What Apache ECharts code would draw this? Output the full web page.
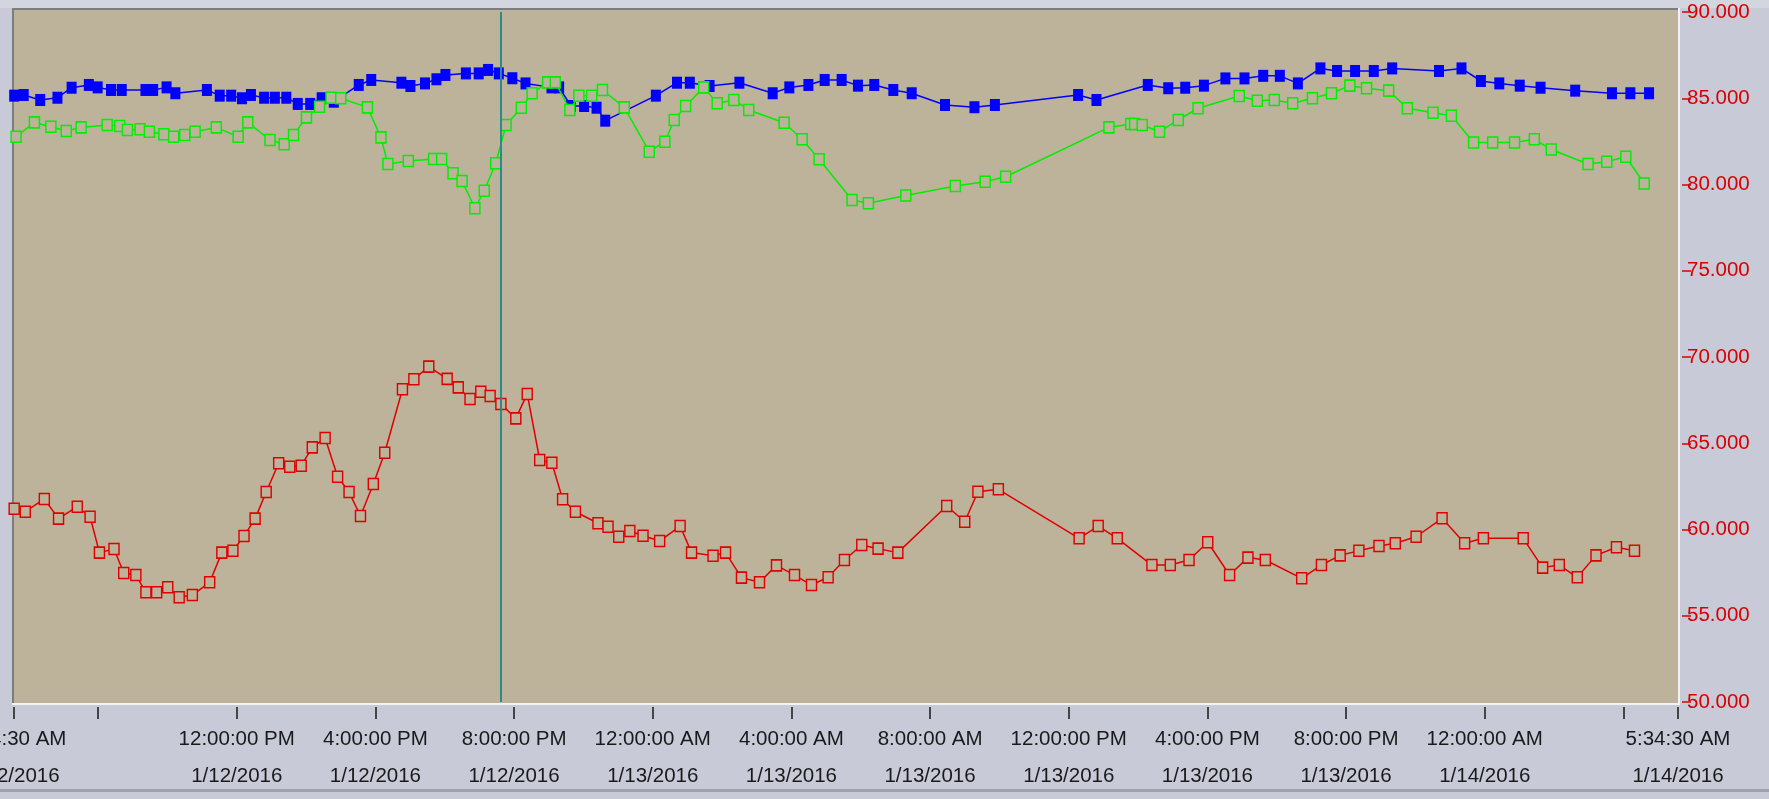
<!DOCTYPE html>
<html>
<head>
<meta charset="utf-8">
<title>Trend chart</title>
<script src="https://cdn.jsdelivr.net/npm/echarts@6/dist/echarts.min.js"></script>
<style>
  html, body { margin: 0; padding: 0; background: #c8cad8; overflow: hidden; }
  #chart { width: 1769px; height: 799px; }
</style>
</head>
<body>
<div id="chart"></div>
<script>
// x values are hours counted from 1/12/2016 00:00
var axisStart = 5.575;   // 5:34:30 AM 1/12/2016
var axisEnd = 53.575;    // 5:34:30 AM 1/14/2016
var cursorHour = 19.63;

var tickHours = [5.575, 8, 12, 16, 20, 24, 28, 32, 36, 40, 44, 48, 52, 53.575];
var labelHours = [5.575, 12, 16, 20, 24, 28, 32, 36, 40, 44, 48, 53.575];
var labelTexts = [
    '5:34:30 AM\n1/12/2016',
    '12:00:00 PM\n1/12/2016',
    '4:00:00 PM\n1/12/2016',
    '8:00:00 PM\n1/12/2016',
    '12:00:00 AM\n1/13/2016',
    '4:00:00 AM\n1/13/2016',
    '8:00:00 AM\n1/13/2016',
    '12:00:00 PM\n1/13/2016',
    '4:00:00 PM\n1/13/2016',
    '8:00:00 PM\n1/13/2016',
    '12:00:00 AM\n1/14/2016',
    '5:34:30 AM\n1/14/2016'
];

var blueHours = [5.58, 5.855, 6.331, 6.828, 7.237, 7.734, 7.988, 8.374, 8.683, 9.367, 9.589, 9.976, 10.23,
    11.14, 11.51, 11.84, 12.15, 12.41, 12.79, 13.10, 13.43, 13.76, 14.12, 14.45, 14.80, 15.52, 15.88,
    16.75, 17.01, 17.43, 17.76, 18.02, 18.61, 18.98, 19.25, 19.56, 19.95, 20.33, 21.08, 21.30, 21.64,
    22.02, 22.38, 22.63, 24.09, 24.70, 25.07, 25.64, 26.50, 27.46, 27.94, 28.49, 28.96, 29.45, 29.92,
    30.39, 30.94, 31.47, 32.43, 33.28, 33.87, 36.27, 36.80, 38.28, 38.87, 39.36, 39.90, 40.52, 41.07,
    41.61, 42.09, 42.61, 43.26, 43.74, 44.26, 44.80, 45.33, 46.68, 47.33, 47.89, 48.42, 49.01, 49.61,
    50.61, 51.67, 52.20, 52.74];
var blueValues = [85.15, 85.19, 84.90, 85.03, 85.61, 85.77, 85.63, 85.48, 85.48, 85.48, 85.48, 85.63, 85.29,
    85.48, 85.15, 85.15, 85.00, 85.19, 85.03, 85.03, 85.03, 84.67, 84.67, 85.00, 84.80, 85.77, 86.06,
    85.90, 85.71, 85.86, 86.10, 86.35, 86.44, 86.44, 86.64, 86.44, 86.16, 85.86, 85.63, 85.63, 84.55,
    84.55, 84.45, 83.70, 85.15, 85.90, 85.90, 85.71, 85.90, 85.29, 85.63, 85.77, 86.06, 86.06, 85.73,
    85.77, 85.48, 85.29, 84.61, 84.48, 84.61, 85.19, 84.90, 85.77, 85.58, 85.61, 85.73, 86.15, 86.15,
    86.30, 86.30, 85.86, 86.73, 86.58, 86.58, 86.58, 86.73, 86.58, 86.73, 86.00, 85.86, 85.73, 85.61,
    85.44, 85.29, 85.29, 85.29];

var greenHours = [5.635, 6.164, 6.640, 7.082, 7.512, 8.264, 8.628, 8.848, 9.214, 9.48, 9.898, 10.18, 10.50,
    10.80, 11.41, 12.04, 12.32, 12.96, 13.37, 13.64, 14.01, 14.39, 14.72, 15.00, 15.77, 16.16, 16.36,
    16.95, 17.68, 17.91, 18.24, 18.50, 18.87, 19.14, 19.47, 19.77, 20.21, 20.52, 20.97, 21.19, 21.61,
    21.87, 22.24, 22.55, 23.18, 23.90, 24.35, 24.62, 24.95, 25.47, 25.86, 26.34, 26.77, 27.79, 28.31,
    28.80, 29.75, 30.22, 31.30, 32.73, 33.59, 34.18, 37.16, 37.79, 37.90, 38.12, 38.62, 39.16, 39.73,
    40.92, 41.44, 41.93, 42.46, 43.03, 43.58, 44.11, 44.59, 45.23, 45.77, 46.51, 47.04, 47.68, 48.23,
    48.86, 49.43, 49.92, 50.98, 51.52, 52.07, 52.60];
var greenValues = [82.77, 83.60, 83.35, 83.10, 83.31, 83.45, 83.39, 83.16, 83.20, 83.06, 82.91, 82.77, 82.87,
    83.06, 83.31, 82.77, 83.60, 82.58, 82.33, 82.87, 83.89, 84.51, 85.03, 85.00, 84.47, 82.73, 81.19,
    81.36, 81.48, 81.48, 80.65, 80.20, 78.62, 79.64, 81.23, 83.45, 84.45, 85.29, 85.92, 85.92, 84.32,
    85.15, 85.15, 85.48, 84.47, 81.90, 82.48, 83.74, 84.55, 85.63, 84.71, 84.90, 84.32, 83.58, 82.62,
    81.46, 79.10, 78.91, 79.36, 79.91, 80.16, 80.45, 83.31, 83.51, 83.51, 83.45, 83.06, 83.74, 84.42,
    85.13, 84.86, 84.90, 84.71, 85.00, 85.29, 85.73, 85.58, 85.44, 84.42, 84.16, 83.99, 82.43, 82.43,
    82.43, 82.62, 82.03, 81.19, 81.32, 81.61, 80.06];

var redHours = [5.58, 5.90, 6.45, 6.86, 7.40, 7.77, 8.04, 8.46, 8.74, 9.09, 9.38, 9.69, 10.01, 10.34, 10.72,
    11.22, 11.57, 11.89, 12.21, 12.53, 12.85, 13.21, 13.53, 13.86, 14.18, 14.55, 14.91, 15.24, 15.57,
    15.94, 16.27, 16.78, 17.11, 17.54, 18.07, 18.39, 18.73, 19.04, 19.31, 19.62, 20.05, 20.38, 20.74,
    21.09, 21.40, 21.77, 22.42, 22.71, 23.02, 23.34, 23.72, 24.20, 24.79, 25.12, 25.74, 26.10, 26.56,
    27.08, 27.57, 28.09, 28.58, 29.06, 29.53, 30.03, 30.50, 31.07, 32.48, 33.00, 33.38, 33.97, 36.30,
    36.85, 37.40, 38.40, 38.93, 39.47, 40.01, 40.64, 41.17, 41.67, 42.72, 43.29, 43.83, 44.37, 44.95,
    45.42, 46.02, 46.77, 47.42, 47.96, 49.11, 49.67, 50.15, 50.67, 51.21, 51.80, 52.32];
var redValues = [61.20, 61.03, 61.77, 60.63, 61.32, 60.74, 58.66, 58.87, 57.48, 57.36, 56.36, 56.36, 56.65,
    56.07, 56.20, 56.94, 58.66, 58.77, 59.62, 60.63, 62.17, 63.84, 63.64, 63.70, 64.76, 65.30, 63.06,
    62.17, 60.78, 62.64, 64.45, 68.13, 68.71, 69.44, 68.73, 68.24, 67.57, 67.99, 67.74, 67.28, 66.44,
    67.86, 64.03, 63.87, 61.75, 61.03, 60.36, 60.16, 59.58, 59.91, 59.64, 59.33, 60.20, 58.66, 58.48,
    58.66, 57.21, 56.94, 57.92, 57.36, 56.78, 57.23, 58.23, 59.10, 58.89, 58.66, 61.36, 60.45, 62.19,
    62.33, 59.49, 60.20, 59.49, 57.94, 57.94, 58.23, 59.26, 57.36, 58.37, 58.23, 57.17, 57.94, 58.50,
    58.77, 59.04, 59.20, 59.58, 60.65, 59.20, 59.49, 59.49, 57.79, 57.94, 57.23, 58.50, 58.97, 58.77];

var plotBg = '#bdb29a';
var axisFont = "'Liberation Sans Narrow', 'Liberation Sans', Arial, sans-serif";

function pairs(xs, ys) {
    return xs.map(function (x, i) { return [x, ys[i]]; });
}

function labelFor(v) {
    for (var i = 0; i < labelHours.length; i++) {
        if (Math.abs(labelHours[i] - v) < 0.01) return labelTexts[i];
    }
    return '';
}

var chart = echarts.init(document.getElementById('chart'));

chart.setOption({
    animation: false,
    backgroundColor: '#c8cad8',
    graphic: [
        // light strip on top
        { type: 'rect', z: -10, silent: true, shape: { x: 0, y: 0, width: 1769, height: 8 }, style: { fill: '#d3d5df' } },
        // plot frame: dark top/left, light bottom/right
        { type: 'rect', z: -10, silent: true, shape: { x: 12, y: 8, width: 1668, height: 697 }, style: { fill: '#f2f2f4' } },
        { type: 'rect', z: -10, silent: true, shape: { x: 12, y: 8, width: 1666, height: 695 }, style: { fill: '#7d7d80' } },
        { type: 'rect', z: -10, silent: true, shape: { x: 14, y: 10, width: 1664, height: 693 }, style: { fill: plotBg } },
        // bottom edge of the panel
        { type: 'rect', z: -10, silent: true, shape: { x: 0, y: 789, width: 1769, height: 3 }, style: { fill: '#9ea1ad' } }
    ],
    grid: {
        left: 14,
        right: 91,
        top: 12,
        bottom: 97,
        containLabel: false,
        outerBoundsMode: 'none'
    },
    xAxis: {
        type: 'value',
        min: axisStart,
        max: axisEnd,
        offset: 5,
        splitLine: { show: false },
        axisLine: { show: false },
        axisTick: {
            show: true,
            length: 12,
            customValues: tickHours,
            lineStyle: { color: '#1a1a1a', width: 1.5 }
        },
        axisLabel: {
            customValues: labelHours,
            formatter: labelFor,
            color: '#1a1a1a',
            fontFamily: axisFont,
            fontSize: 20.5,
            lineHeight: 37,
            margin: 14
        }
    },
    yAxis: {
        type: 'value',
        position: 'right',
        min: 50,
        max: 90,
        interval: 5,
        offset: 4,
        splitLine: { show: false },
        axisLine: { show: false },
        axisTick: {
            show: true,
            length: 9,
            lineStyle: { color: '#d80000', width: 1.5 }
        },
        axisLabel: {
            color: '#d80000',
            fontFamily: axisFont,
            fontSize: 20.5,
            margin: 5,
            formatter: function (v) { return v.toFixed(3); }
        }
    },
    series: [
        {
            name: 'red',
            type: 'line',
            data: pairs(redHours, redValues),
            symbol: 'rect',
            symbolSize: [10, 11],
            lineStyle: { color: '#e00000', width: 1.5 },
            itemStyle: { color: plotBg, borderColor: '#e00000', borderWidth: 1.5 },
            z: 3
        },
        {
            name: 'blue',
            type: 'line',
            data: pairs(blueHours, blueValues),
            symbol: 'rect',
            symbolSize: [10, 12],
            lineStyle: { color: '#0000ff', width: 1.5 },
            itemStyle: { color: '#0000ff' },
            z: 3,
            markLine: {
                silent: true,
                symbol: 'none',
                label: { show: false },
                lineStyle: { color: '#2a8a8c', width: 2, type: 'solid' },
                data: [{ xAxis: cursorHour }]
            }
        },
        {
            name: 'green',
            type: 'line',
            data: pairs(greenHours, greenValues),
            symbol: 'rect',
            symbolSize: [10, 11],
            lineStyle: { color: '#00ee00', width: 1.5 },
            itemStyle: { color: plotBg, borderColor: '#00ee00', borderWidth: 1.5 },
            z: 4
        }
    ]
});
</script>
</body>
</html>
